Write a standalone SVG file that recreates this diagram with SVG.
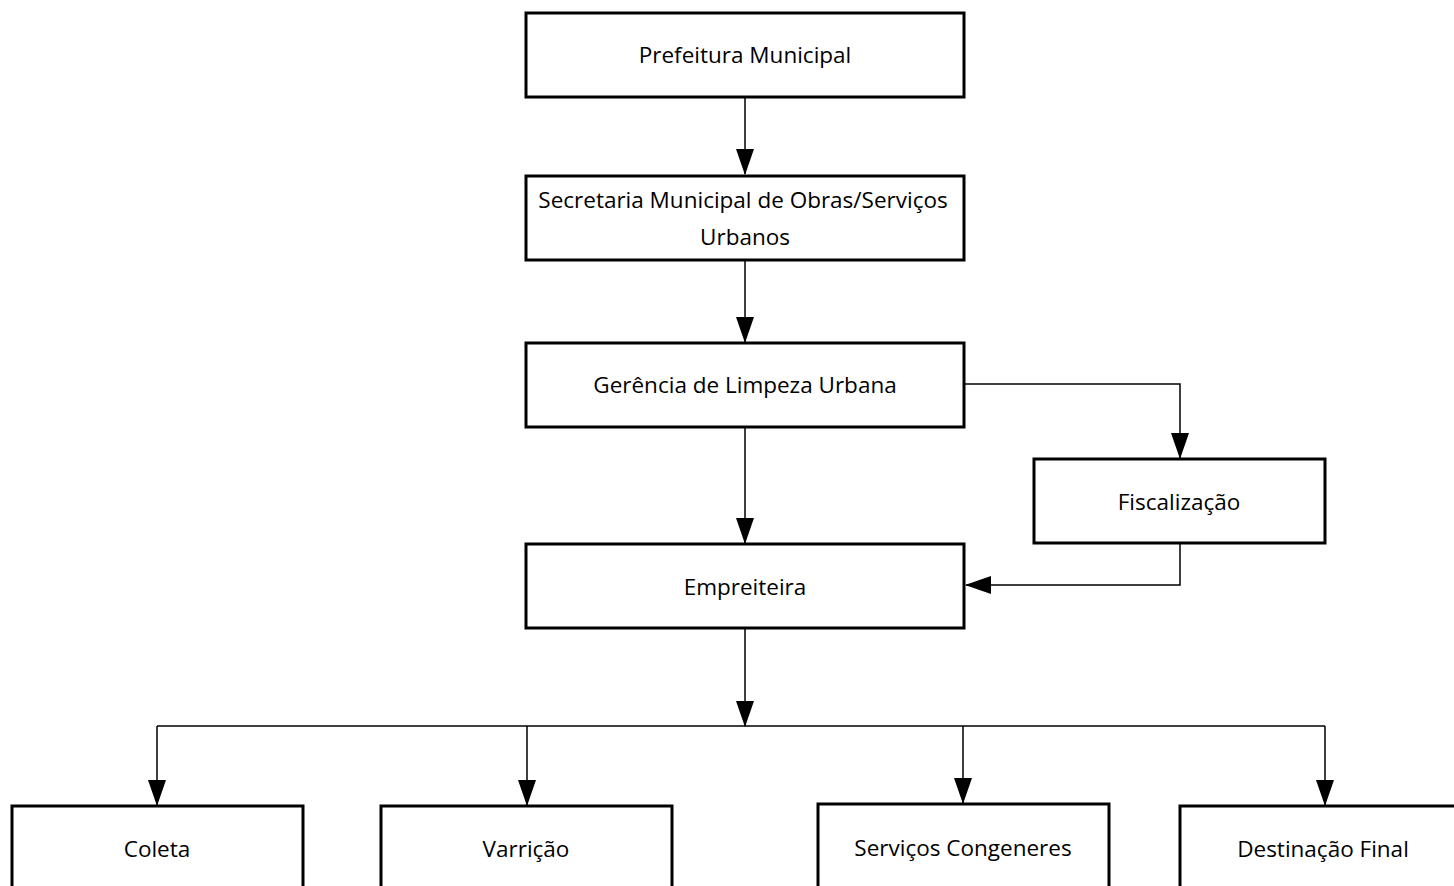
<svg xmlns="http://www.w3.org/2000/svg" width="1454" height="886" viewBox="0 0 1454 886">
<style>
.box{fill:#fff;stroke:#000;stroke-width:3}
.lbl{font-family:"Open Sans","Liberation Sans",sans-serif;font-size:22.5px;fill:#000;text-anchor:middle}
.c{fill:none;stroke:#000;stroke-width:1.5}
</style>
<defs>
<marker id="ah" markerUnits="userSpaceOnUse" markerWidth="26" markerHeight="20" viewBox="0 0 26 20" refX="25" refY="10" orient="auto">
<path d="M0,1 L26,10 L0,19 Z" fill="#000"/>
</marker>
</defs>
<rect width="1454" height="886" fill="#fff"/>
<g id="connectors">
<line class="c" x1="745" y1="97" x2="745" y2="174" marker-end="url(#ah)"/>
<line class="c" x1="745" y1="260" x2="745" y2="342" marker-end="url(#ah)"/>
<line class="c" x1="745" y1="427" x2="745" y2="543" marker-end="url(#ah)"/>
<polyline class="c" points="964,384 1180,384 1180,458" marker-end="url(#ah)"/>
<polyline class="c" points="1180,543 1180,585 966,585" marker-end="url(#ah)"/>
<line class="c" x1="745" y1="628" x2="745" y2="726" marker-end="url(#ah)"/>
<line class="c" x1="157" y1="726" x2="1325" y2="726"/>
<line class="c" x1="157" y1="726" x2="157" y2="805" marker-end="url(#ah)"/>
<line class="c" x1="527" y1="726" x2="527" y2="805" marker-end="url(#ah)"/>
<line class="c" x1="963" y1="726" x2="963" y2="803" marker-end="url(#ah)"/>
<line class="c" x1="1325" y1="726" x2="1325" y2="805" marker-end="url(#ah)"/>
</g>
<g id="prefeitura"><rect class="box" x="526" y="13" width="438" height="84"/><text class="lbl" x="745" y="63">Prefeitura Municipal</text></g>
<g id="secretaria"><rect class="box" x="526" y="176" width="438" height="84"/><text class="lbl" x="743" y="208">Secretaria Municipal de Obras/Serviços</text><text class="lbl" x="745" y="245">Urbanos</text></g>
<g id="gerencia"><rect class="box" x="526" y="343" width="438" height="84"/><text class="lbl" x="745" y="393">Gerência de Limpeza Urbana</text></g>
<g id="fiscalizacao"><rect class="box" x="1034" y="459" width="291" height="84"/><text class="lbl" x="1179" y="510">Fiscalização</text></g>
<g id="empreiteira"><rect class="box" x="526" y="544" width="438" height="84"/><text class="lbl" x="745" y="595">Empreiteira</text></g>
<g id="coleta"><rect class="box" x="12" y="806" width="291" height="90"/><text class="lbl" x="157" y="857">Coleta</text></g>
<g id="varricao"><rect class="box" x="381" y="806" width="291" height="90"/><text class="lbl" x="526" y="857">Varrição</text></g>
<g id="servicos"><rect class="box" x="818" y="804" width="291" height="92"/><text class="lbl" x="963" y="856">Serviços Congeneres</text></g>
<g id="destinacao"><rect class="box" x="1180" y="806" width="290" height="90"/><text class="lbl" x="1323" y="857">Destinação Final</text></g>
</svg>
